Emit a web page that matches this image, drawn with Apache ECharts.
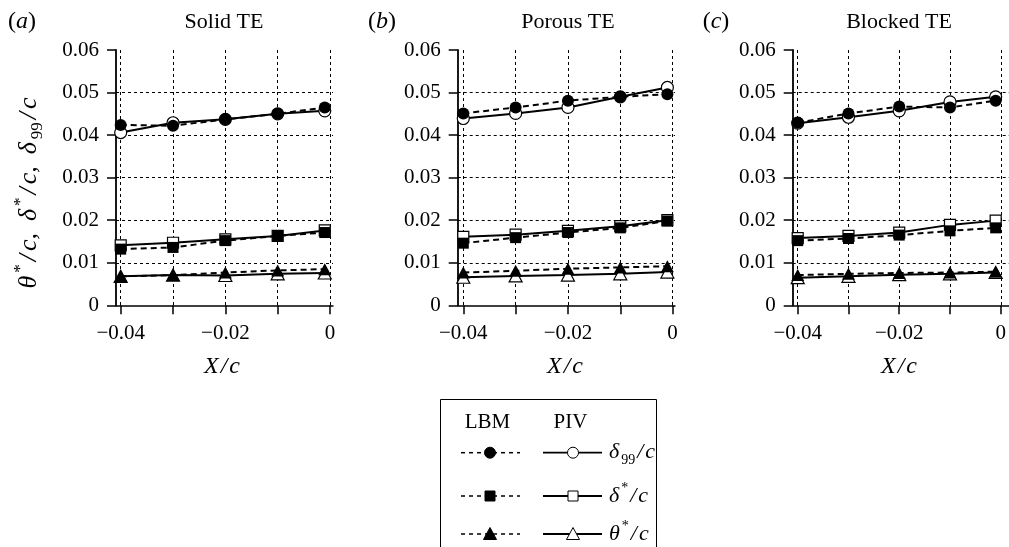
<!DOCTYPE html>
<html>
<head>
<meta charset="utf-8">
<script src="https://cdn.jsdelivr.net/npm/echarts@6/dist/echarts.min.js"></script>
<style>
html,body{margin:0;padding:0;background:#fff;}
#chart{width:1009px;height:547px;}
</style>
</head>
<body>
<div id="chart"></div>
<script>
// ---------- data ----------
const xPositions = [-0.04, -0.03, -0.02, -0.01, -0.001];
const panelTitles = ['Solid TE', 'Porous TE', 'Blocked TE'];
const panelLetters = ['a', 'b', 'c'];
const xTickLabels = ['\u22120.04', '', '\u22120.02', '', '0'];   // for -0.04 .. 0 step 0.01
const yTickLabels = ['0', '0.01', '0.02', '0.03', '0.04', '0.05', '0.06'];

// Solid TE
const solidLbmD99 = [0.0424, 0.0422, 0.0437, 0.0450, 0.0465];
const solidPivD99 = [0.0406, 0.0429, 0.0437, 0.0450, 0.0457];
const solidLbmDs  = [0.0132, 0.0136, 0.0152, 0.0163, 0.0171];
const solidPivDs  = [0.0141, 0.0147, 0.0155, 0.0163, 0.0176];
const solidLbmTh  = [0.0068, 0.0071, 0.0077, 0.0082, 0.0085];
const solidPivTh  = [0.0068, 0.0071, 0.0070, 0.0074, 0.0076];
// Porous TE
const porousLbmD99 = [0.0451, 0.0465, 0.0481, 0.0490, 0.0496];
const porousPivD99 = [0.0439, 0.0451, 0.0465, 0.0490, 0.0512];
const porousLbmDs  = [0.0146, 0.0159, 0.0171, 0.0182, 0.0198];
const porousPivDs  = [0.0161, 0.0166, 0.0175, 0.0186, 0.0200];
const porousLbmTh  = [0.0077, 0.0081, 0.0086, 0.0089, 0.0092];
const porousPivTh  = [0.0066, 0.0069, 0.0071, 0.0074, 0.0078];
// Blocked TE
const blockedLbmD99 = [0.0429, 0.0451, 0.0467, 0.0465, 0.0481];
const blockedPivD99 = [0.0428, 0.0442, 0.0457, 0.0478, 0.0490];
const blockedLbmDs  = [0.0152, 0.0157, 0.0165, 0.0175, 0.0182];
const blockedPivDs  = [0.0158, 0.0163, 0.0171, 0.0189, 0.0199];
const blockedLbmTh  = [0.0071, 0.0074, 0.0076, 0.0077, 0.0079];
const blockedPivTh  = [0.0065, 0.0068, 0.0072, 0.0074, 0.0077];

const panelData = [
  {lbm: [solidLbmD99, solidLbmDs, solidLbmTh], piv: [solidPivD99, solidPivDs, solidPivTh]},
  {lbm: [porousLbmD99, porousLbmDs, porousLbmTh], piv: [porousPivD99, porousPivDs, porousPivTh]},
  {lbm: [blockedLbmD99, blockedLbmDs, blockedLbmTh], piv: [blockedPivD99, blockedPivDs, blockedPivTh]}
];

// ---------- layout ----------
const FONT = 'Liberation Serif';
const TICK_FS = 21;
const layout = [
  {axisX: 116,   x0: 120.7, right: 333},
  {axisX: 457.7, x0: 463.3, right: 675},
  {axisX: 792.7, x0: 797.7, right: 1009}
];
const TOP = 50, HEIGHT = 255.3, DATA_W = 209.3;
const symbols = ['circle', 'rect', 'triangle'];
const symbolSizes = [12, 11, [13, 12]];
const dashPattern = [6, 4];
const gridDash = [3, 3];

function richSet(fs, subFs) {
  return {
    i:   {fontFamily: FONT, fontStyle: 'italic', fontSize: fs, lineHeight: Math.round(fs * 1.3)},
    r:   {fontFamily: FONT, fontSize: fs, lineHeight: Math.round(fs * 1.3)},
    sub: {fontFamily: FONT, fontSize: subFs, lineHeight: subFs + 1, verticalAlign: 'bottom'},
    sup: {fontFamily: FONT, fontSize: subFs, lineHeight: Math.round(fs * 1.12), verticalAlign: 'top'},
    s:   {width: 2},
    s3:  {width: 3},
    w:   {width: 12}
  };
}
const titleRich = richSet(26, 17);
const legendRich = richSet(22, 14);
const seriesNames = [
  '{i|\u03b4}{s|}{sub|99}{s|}{i|/}{s|}{i|c}',
  '{i|\u03b4}{s|}{sup|*}{s|}{i|/}{s|}{i|c}',
  '{i|\u03b8}{s|}{sup|*}{s|}{i|/}{s|}{i|c}'
];

const grids = [], xAxes = [], yAxes = [], series = [], graphics = [];

layout.forEach((L, p) => {
  grids.push({left: L.axisX, top: TOP, width: L.right - L.axisX, height: HEIGHT});
  grids.push({left: L.x0, top: TOP, width: DATA_W, height: HEIGHT});
  const gB = 2 * p, gA = 2 * p + 1;
  xAxes.push({
    gridIndex: gB, type: 'value', min: 0, max: 1,
    axisLine: {show: true, onZero: false, lineStyle: {color: '#000', width: 1.5}},
    axisTick: {show: false}, axisLabel: {show: false}, splitLine: {show: false}
  });
  yAxes.push({
    gridIndex: gB, type: 'value', min: 0, max: 0.06, interval: 0.01,
    axisLine: {show: true, onZero: false, lineStyle: {color: '#000', width: 1.8}},
    axisTick: {show: true, length: 9, lineStyle: {color: '#000', width: 1.5}},
    axisLabel: {margin: 17, color: '#000', fontFamily: FONT, fontSize: TICK_FS,
      formatter: v => yTickLabels[Math.round(v * 100)]},
    splitLine: {show: true, showMinLine: false, showMaxLine: false,
      lineStyle: {color: '#000', width: 1, type: gridDash}}
  });
  xAxes.push({
    gridIndex: gA, type: 'value', min: -0.04, max: 0, interval: 0.01,
    axisLine: {show: false},
    axisTick: {show: true, length: 9, lineStyle: {color: '#000', width: 1.5}},
    axisLabel: {margin: 18, color: '#000', fontFamily: FONT, fontSize: TICK_FS, showMinLabel: true, showMaxLabel: true,
      formatter: v => xTickLabels[Math.round((v + 0.04) * 100)]},
    splitLine: {show: true, lineStyle: {color: '#000', width: 1, type: gridDash}}
  });
  yAxes.push({gridIndex: gA, type: 'value', min: 0, max: 0.06, show: false});

  const D = panelData[p];
  for (let k = 0; k < 3; k++) {
    series.push({
      type: 'line', name: 'PIV' + k + '_' + p,
      xAxisIndex: gA, yAxisIndex: gA,
      data: xPositions.map((x, i) => [x, D.piv[k][i]]),
      symbol: symbols[k], symbolSize: symbolSizes[k], showAllSymbol: true,
      lineStyle: {color: '#000', width: 2, type: 'solid'},
      itemStyle: {color: '#fff', borderColor: '#000', borderWidth: 1.2},
      z: 3, silent: true
    });
  }
  for (let k = 0; k < 3; k++) {
    series.push({
      type: 'line', name: 'LBM' + k + '_' + p,
      xAxisIndex: gA, yAxisIndex: gA,
      data: xPositions.map((x, i) => [x, D.lbm[k][i]]),
      symbol: symbols[k], symbolSize: symbolSizes[k], showAllSymbol: true,
      lineStyle: {color: '#000', width: 2, type: dashPattern},
      itemStyle: {color: '#000', borderColor: '#000', borderWidth: 0},
      z: 4, silent: true
    });
  }

  graphics.push({type: 'text', x: [224, 568, 899][p], y: 22,
    style: {text: panelTitles[p], fill: '#000', fontFamily: FONT, fontSize: 22, align: 'center', verticalAlign: 'middle'}});
  graphics.push({type: 'text', x: [22, 382, 716][p], y: 22,
    style: {text: '{r|(}{i|' + panelLetters[p] + '}{r|)}', rich: richSet(24, 16), fill: '#000', align: 'center', verticalAlign: 'middle'}});
  graphics.push({type: 'text', x: [222, 565, 899][p], y: 367,
    style: {text: '{i|X}{s|}{i|/}{s|}{i|c}', rich: richSet(24, 16), fill: '#000', align: 'center', verticalAlign: 'middle'}});
});

// y-axis title (panel a)
graphics.push({type: 'text', x: 29, y: 193, rotation: Math.PI / 2,
  style: {text: '{i|\u03b8}{s3|}{sup|*}{s3|}{i|/}{s3|}{i|c,}{w|}' +
                '{i|\u03b4}{s3|}{sup|*}{s3|}{i|/}{s3|}{i|c,}{w|}' +
                '{i|\u03b4}{s3|}{sub|99}{s3|}{i|/}{s3|}{i|c}',
          rich: titleRich, fill: '#000', align: 'center', verticalAlign: 'middle'}});

// legend
graphics.push({type: 'rect', shape: {x: 440.5, y: 399.5, width: 216, height: 160},
  style: {fill: 'none', stroke: '#000', lineWidth: 1}});
graphics.push({type: 'text', x: 487.5, y: 422, style: {text: 'LBM', fill: '#000', fontFamily: FONT, fontSize: 21, align: 'center', verticalAlign: 'middle'}});
graphics.push({type: 'text', x: 570.5, y: 422, style: {text: 'PIV', fill: '#000', fontFamily: FONT, fontSize: 21, align: 'center', verticalAlign: 'middle'}});
const rowsY = [452.7, 496, 534];
function legendMarker(kind, cx, cy, filled) {
  const st = {fill: filled ? '#000' : '#fff', stroke: '#000', lineWidth: 1};
  if (kind === 0) return {type: 'circle', shape: {cx: cx, cy: cy, r: 5.5}, style: st};
  if (kind === 1) return {type: 'rect', shape: {x: cx - 5, y: cy - 5, width: 10, height: 10}, style: st};
  return {type: 'polygon', shape: {points: [[cx - 6.5, cy + 5.5], [cx + 6.5, cy + 5.5], [cx, cy - 6.5]]}, style: st};
}
rowsY.forEach((ry, k) => {
  graphics.push({type: 'line', shape: {x1: 461, y1: ry, x2: 520, y2: ry}, style: {stroke: '#000', lineWidth: 1.5, lineDash: [4, 4]}});
  graphics.push(legendMarker(k, 490, ry, true));
  graphics.push({type: 'line', shape: {x1: 543, y1: ry, x2: 602, y2: ry}, style: {stroke: '#000', lineWidth: 1.8}});
  graphics.push(legendMarker(k, 573, ry, false));
  graphics.push({type: 'text', x: 609, y: ry, style: {text: seriesNames[k], rich: legendRich, fill: '#000', align: 'left', verticalAlign: 'middle'}});
});

const chart = echarts.init(document.getElementById('chart'), null, {renderer: 'canvas'});
chart.setOption({
  animation: false,
  backgroundColor: '#fff',
  grid: grids,
  xAxis: xAxes,
  yAxis: yAxes,
  series: series,
  graphic: graphics
});
</script>
</body>
</html>
